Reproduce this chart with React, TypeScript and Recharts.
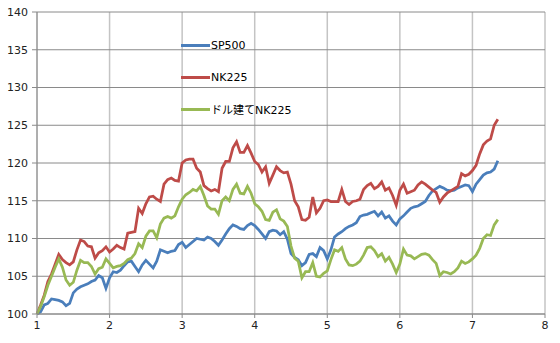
import { LineChart, Line, XAxis, YAxis, CartesianGrid, Legend } from 'recharts';

// values are indexed by trading day; x runs from 1 in steps of 0.05
const X_START = 1;
const X_STEP = 0.05;

const SP500 = [
  100, 100.3, 101.2, 101.4, 102.0, 101.9, 101.8, 101.6, 101.1, 101.4,
  102.8, 103.3, 103.6, 103.8, 104.0, 104.3, 104.5, 105.1, 104.8, 103.4,
  104.8, 105.6, 105.5, 105.8, 106.4, 106.9, 107.0, 106.3, 105.6, 106.5,
  107.1, 106.6, 106.1, 107.0, 108.5, 108.3, 108.1, 108.3, 108.4, 109.2,
  109.5, 108.8, 109.2, 109.6, 110.0, 109.9, 109.8, 110.2, 110.0, 109.6,
  109.1, 109.8, 110.6, 111.3, 111.8, 111.6, 111.3, 111.2, 111.7, 112.0,
  111.7, 111.2, 110.6, 110.0, 110.9, 111.1, 111.0, 110.5, 110.9, 109.9,
  108.0, 107.5, 107.2, 106.4, 106.8, 107.9, 108.0, 107.6, 108.8, 108.4,
  107.3, 108.5, 110.2, 110.6, 110.9, 111.3, 111.6, 111.8, 112.1, 112.9,
  113.1, 113.2, 113.4, 113.6, 113.0, 113.5, 112.7, 113.0, 112.3, 111.8,
  112.6, 113.0, 113.5, 114.0, 114.2, 114.3, 114.6, 114.9, 115.7, 116.3,
  116.6, 116.9, 116.7, 116.4, 116.3, 116.4, 116.7, 116.9, 117.1, 117.0,
  116.2, 117.2, 117.8, 118.4, 118.7, 118.8, 119.2, 120.3,
];

const NK225 = [
  100, 101.2, 102.5, 104.3, 105.3, 106.6, 107.9, 107.2, 106.8, 106.5,
  106.9, 108.5, 109.8, 109.6, 109.0, 108.9, 107.4, 108.1, 108.4, 108.9,
  108.2, 108.6, 109.1, 108.8, 108.6, 110.7, 110.8, 110.9, 114.0, 113.3,
  114.6, 115.5, 115.6, 115.2, 114.9, 117.2, 117.8, 118.0, 117.7, 117.6,
  120.0, 120.4, 120.5, 120.5, 119.3, 118.8, 117.0, 116.6, 116.3, 116.5,
  116.2, 119.3, 120.2, 120.2, 122.0, 122.8, 121.4, 121.4, 122.3, 121.3,
  120.2, 119.8, 118.8, 119.5, 117.3, 118.4, 119.5, 119.0, 118.7, 118.8,
  117.2, 115.0, 114.2, 112.5, 112.4, 112.8, 115.5, 113.4, 114.0, 115.0,
  115.1, 114.9, 114.9, 114.9, 116.5, 114.9, 114.5, 114.9, 115.0, 115.2,
  116.5, 117.0, 117.3, 116.6, 116.9, 117.5, 116.4, 116.7, 115.7, 114.4,
  116.4, 117.2, 116.0, 116.2, 116.4, 117.1, 117.5, 117.2, 116.8, 116.4,
  116.1, 114.8, 115.5, 116.0, 116.3, 116.6, 116.9, 118.6, 118.3, 118.5,
  119.0, 119.7, 121.2, 122.4, 122.9, 123.2, 125.0, 125.8,
];

const NK225_USD = [
  100, 101.0, 102.3, 103.8, 105.0, 106.2, 107.3, 106.2, 104.5, 103.8,
  104.2, 105.8, 107.1, 106.8, 106.8, 106.3, 105.3, 106.0, 106.2, 107.3,
  106.7, 106.1, 106.3, 106.4, 106.7, 107.2, 107.4, 108.0, 109.3, 108.8,
  110.3, 111.0, 111.0, 110.1, 111.9, 112.7, 112.9, 112.7, 113.0, 114.2,
  115.2, 115.8, 116.1, 116.5, 116.3, 116.9, 115.7, 114.3, 113.9, 113.9,
  113.2, 115.0, 115.5, 115.0, 116.5, 117.2, 116.0, 115.9, 116.9, 116.0,
  114.6, 114.2, 113.6, 112.5, 112.4, 113.5, 113.8, 112.6, 112.3, 111.6,
  109.0, 107.4, 107.0, 104.8, 105.6, 105.6, 106.8, 105.0, 104.9, 105.4,
  105.7, 107.2, 108.5, 108.3, 108.8, 107.3, 106.5, 106.4, 106.6, 107.0,
  107.8, 108.8, 108.9, 108.4, 107.6, 108.0, 107.0, 107.5, 106.6, 105.5,
  106.6, 108.6, 107.8, 107.7, 107.3, 107.6, 107.9, 108.0, 107.8, 107.2,
  106.7, 105.1, 105.6, 105.5, 105.3, 105.6, 106.1, 107.0, 106.7, 106.9,
  107.3, 107.8, 108.7, 110.0, 110.5, 110.4, 111.8, 112.5,
];

const X_TICKS = [1, 2, 3, 4, 5, 6, 7, 8];
const Y_TICKS = [100, 105, 110, 115, 120, 125, 130, 135, 140];

const SERIES = [
  { key: 'sp', name: 'SP500', color: '#4a7ebb' },
  { key: 'nk', name: 'NK225', color: '#be4b48' },
  { key: 'usd', name: 'ドル建てNK225', color: '#98b954' },
];

const chartData = SP500.map((v, i) => ({
  x: Math.round((X_START + i * X_STEP) * 100) / 100,
  sp: v,
  nk: NK225[i],
  usd: NK225_USD[i],
}));

const renderLegend = () => (
  <div>
    {SERIES.map((s) => (
      <div key={s.key} style={{ display: 'flex', alignItems: 'center', height: 31.7 }}>
        <span style={{ display: 'inline-block', width: 29, height: 3, background: s.color }} />
        <span style={{ fontSize: 11, color: '#000', marginLeft: 1 }}>{s.name}</span>
      </div>
    ))}
  </div>
);

export default function App() {
  return (
    <div
      style={{
        position: 'absolute',
        left: 0,
        top: 0,
        width: 560,
        height: 343,
        background: '#fff',
        fontFamily: '"DejaVu Sans", "Noto Sans CJK JP", sans-serif',
      }}
    >
      <LineChart width={560} height={343} data={chartData} margin={{ top: 12, right: 15, bottom: 0, left: 0 }}>
        <CartesianGrid horizontal={false} stroke="#c4c4c4" strokeWidth={1.5} verticalPoints={undefined} />
        <CartesianGrid vertical={false} stroke="#8a8a8a" />
        <XAxis
          dataKey="x"
          type="number"
          domain={[1, 8]}
          ticks={X_TICKS}
          height={29}
          stroke="#8a8a8a"
          tickSize={4}
          tickMargin={3}
          tick={{ fill: '#222', fontSize: 11 }}
          interval={0}
        />
        <YAxis
          type="number"
          domain={[100, 140]}
          ticks={Y_TICKS}
          width={37}
          stroke="#8a8a8a"
          tickSize={5}
          tickMargin={4}
          tick={{ fill: '#222', fontSize: 11 }}
          interval={0}
        />
        <Legend
          layout="vertical"
          align="center"
          verticalAlign="middle"
          content={renderLegend}
          wrapperStyle={{ left: 181, top: 30, width: 160 }}
        />
        {SERIES.map((s) => (
          <Line
            key={s.key}
            type="linear"
            dataKey={s.key}
            name={s.name}
            stroke={s.color}
            strokeWidth={2.75}
            dot={false}
            isAnimationActive={false}
          />
        ))}
      </LineChart>
    </div>
  );
}
